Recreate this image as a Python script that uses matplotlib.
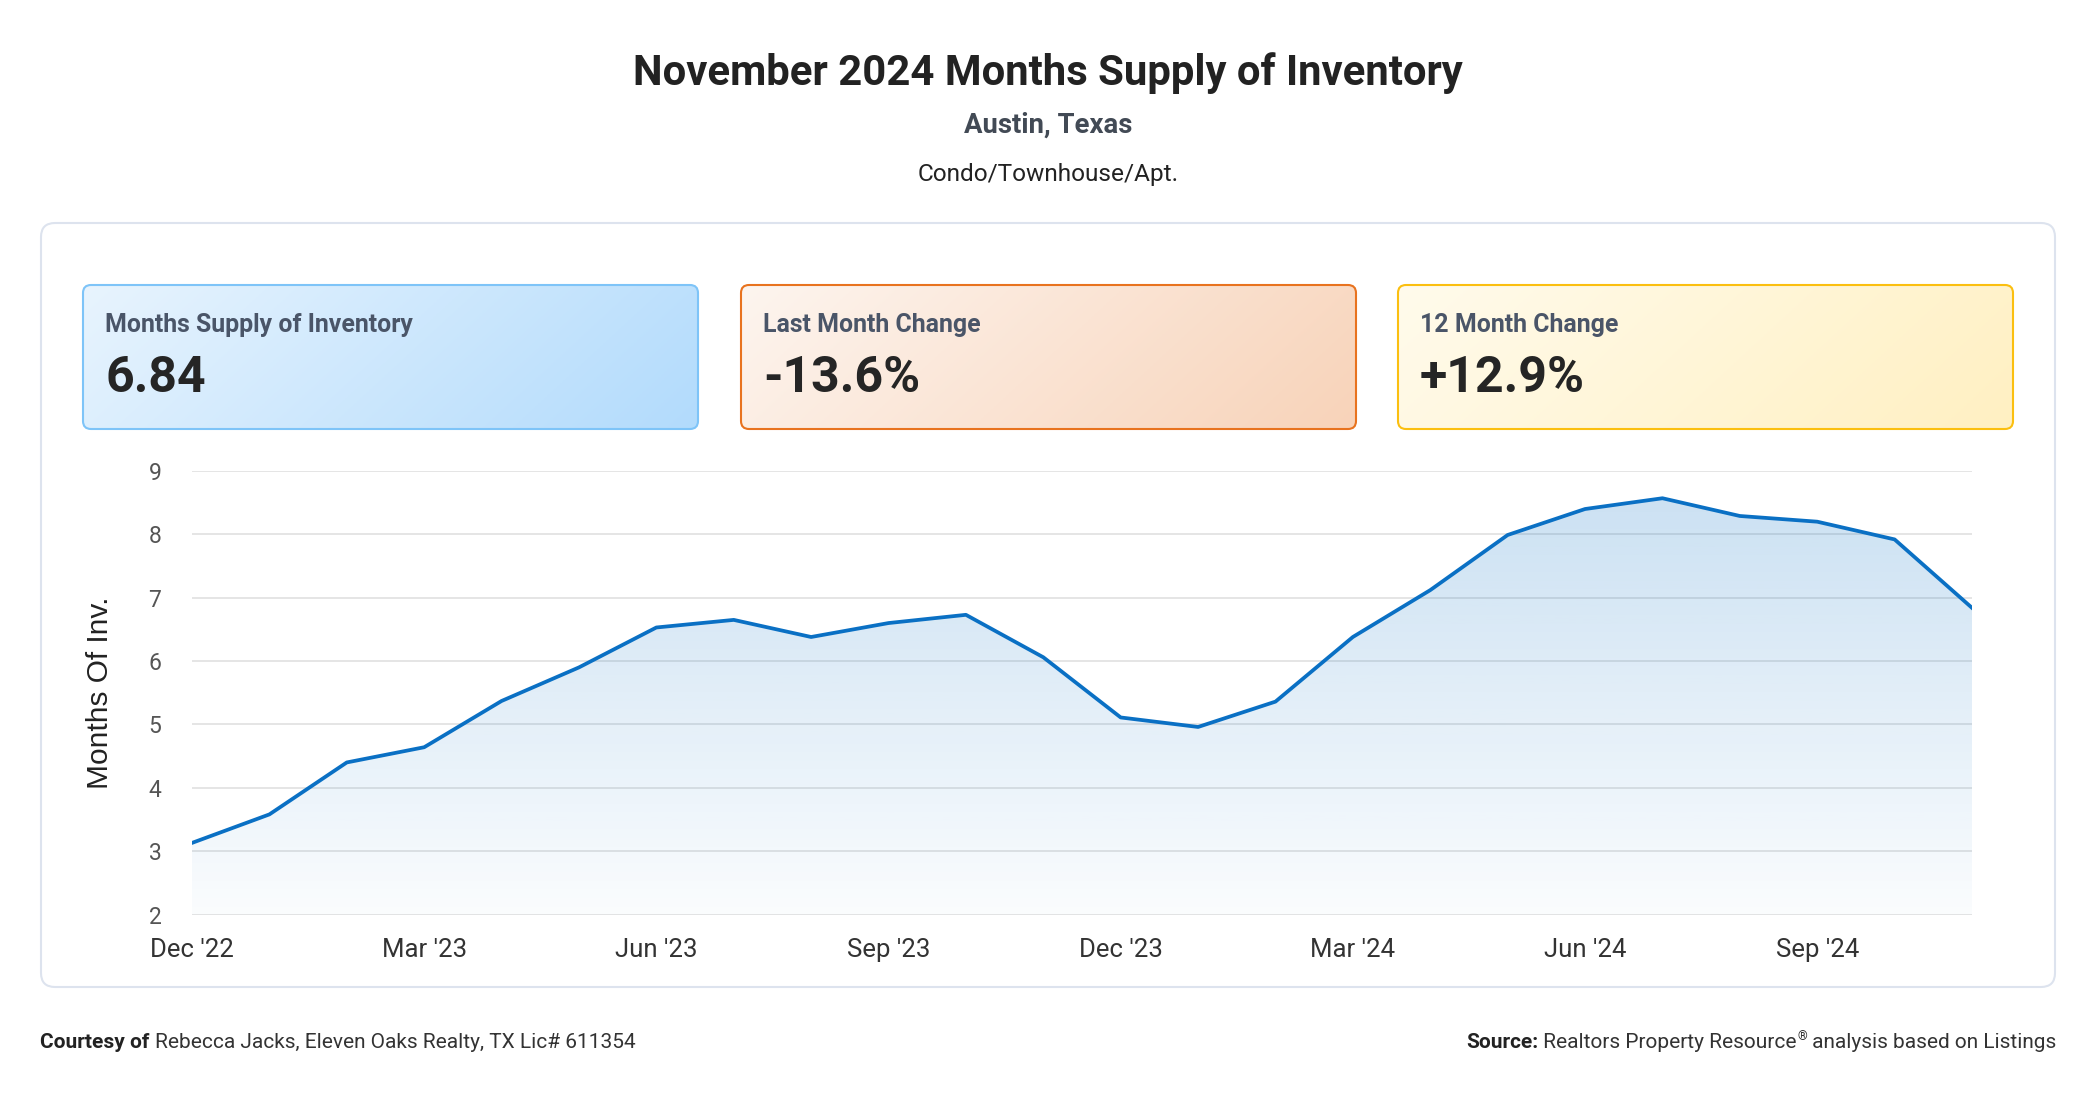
import matplotlib
matplotlib.use('Agg')
import matplotlib.pyplot as plt
import numpy as np
from matplotlib.patches import FancyBboxPatch, Polygon
from matplotlib.colors import LinearSegmentedColormap, to_rgb

plt.rcParams['font.family'] = ['Roboto', 'DejaVu Sans']

W, H = 2096, 1100

# monthly months-supply values, Dec 2022 .. Nov 2024
months = ['2022-12', '2023-01', '2023-02', '2023-03', '2023-04', '2023-05',
          '2023-06', '2023-07', '2023-08', '2023-09', '2023-10', '2023-11',
          '2023-12', '2024-01', '2024-02', '2024-03', '2024-04', '2024-05',
          '2024-06', '2024-07', '2024-08', '2024-09', '2024-10', '2024-11']
supply = [3.13, 3.58, 4.40, 4.64, 5.37, 5.90, 6.53, 6.65, 6.38, 6.60, 6.73, 6.06,
          5.11, 4.96, 5.36, 6.38, 7.12, 7.99, 8.40, 8.57, 8.29, 8.20, 7.92, 6.84]
tick_labels = ["Dec '22", "Mar '23", "Jun '23", "Sep '23",
               "Dec '23", "Mar '24", "Jun '24", "Sep '24"]
y_ticks = [2, 3, 4, 5, 6, 7, 8, 9]

card_titles = ['Months Supply of Inventory', 'Last Month Change', '12 Month Change']
card_values = ['6.84', '-13.6%', '+12.9%']

fig = plt.figure(figsize=(W / 100, H / 100), dpi=100)
fig.patch.set_facecolor('white')

bg = fig.add_axes([0, 0, 1, 1])
bg.set_xlim(0, W)
bg.set_ylim(H, 0)
bg.axis('off')


def rounded(x, y, w, h, r, **kw):
    p = FancyBboxPatch((x, y), w, h, boxstyle='round,pad=0,rounding_size=%d' % r, **kw)
    bg.add_patch(p)
    return p


# header
bg.text(W / 2, 85, 'November 2024 Months Supply of Inventory', ha='center', va='baseline',
        fontsize=30.2, fontweight='bold', color='#222222')
bg.text(W / 2, 133, 'Austin, Texas', ha='center', va='baseline',
        fontsize=19.8, fontweight='bold', color='#424a55')
bg.text(W / 2, 181, 'Condo/Townhouse/Apt.', ha='center', va='baseline',
        fontsize=17.6, color='#222222')

# outer panel
rounded(41, 223, 2014, 764, 14, facecolor='white', edgecolor='#dde3ee', lw=1.5)

# summary cards
card_x = [83, 741, 1398]
card_w = 615
card_y, card_h = 285, 144
card_light = ['#e8f4fe', '#fdf5ef', '#fffbec']
card_dark = ['#b2dbfc', '#f8d3b9', '#fff0c2']
card_edge = ['#7ec4f8', '#e8731f', '#fbbf10']

for i in range(3):
    x0 = card_x[i]
    u, v = np.meshgrid(np.linspace(0, 1, 200), np.linspace(0, 1, 50))
    t = (u * 0.8 + v * 0.2)
    c0, c1 = np.array(to_rgb(card_light[i])), np.array(to_rgb(card_dark[i]))
    img = c0 + (c1 - c0) * t[..., None]
    clip = rounded(x0, card_y, card_w, card_h, 8, facecolor='none', edgecolor='none')
    im = bg.imshow(img, extent=(x0, x0 + card_w, card_y + card_h, card_y),
                   origin='upper', aspect='auto', zorder=1)
    im.set_clip_path(clip)
    rounded(x0, card_y, card_w, card_h, 8, facecolor='none', edgecolor=card_edge[i],
            lw=1.5, zorder=2)
    bg.text(x0 + 22, 332, card_titles[i], ha='left', va='baseline', fontsize=17.9,
            fontweight='bold', color='#4a5568', zorder=3)
    bg.text(x0 + 22, 392, card_values[i], ha='left', va='baseline', fontsize=36,
            fontweight='bold', color='#252525', zorder=3)

bg.set_xlim(0, W)
bg.set_ylim(H, 0)

# main chart
left, right, top, bottom = 192, 1972, 471, 914.5
ax = fig.add_axes([left / W, 1 - bottom / H, (right - left) / W, (bottom - top) / H])
x = np.arange(len(supply))
ymax = max(supply)

cmap = LinearSegmentedColormap.from_list(
    'fade', [(10 / 255, 112 / 255, 196 / 255, 0.02), (10 / 255, 112 / 255, 196 / 255, 0.21)])
grad = np.linspace(0, 1, 256).reshape(-1, 1)
im = ax.imshow(grad, extent=(0, len(supply) - 1, 2, ymax), origin='lower',
               aspect='auto', cmap=cmap, zorder=1.6)
verts = np.column_stack([np.r_[x, x[::-1]], np.r_[supply, np.full(len(supply), 2)]])
poly = Polygon(verts, closed=True, facecolor='none', edgecolor='none')
ax.add_patch(poly)
im.set_clip_path(poly)

ax.plot(x, supply, color='#0a70c4', lw=2.7, solid_joinstyle='round', zorder=3)

ax.set_xlim(0, len(supply) - 1)
ax.set_ylim(2, 9)
ax.set_yticks(y_ticks)
ax.set_xticks(x[::3])
ax.set_xticklabels(tick_labels)
ax.grid(axis='y', color='#e3e3e3', lw=1.3)
ax.grid(axis='x', visible=False)
for s in ax.spines.values():
    s.set_visible(False)
ax.tick_params(axis='y', length=0, pad=22, labelsize=16.5, labelcolor='#555555')
ax.tick_params(axis='x', length=0, pad=17, labelsize=18.5, labelcolor='#333333')
ax.set_facecolor('none')

bg.text(100, (top + bottom) / 2, 'Months Of Inv.', rotation=90, ha='center', va='center',
        fontsize=21.5, color='#222222', family=['Liberation Sans', 'DejaVu Sans'])

# footer with mixed weight
fig.canvas.draw()
r = fig.canvas.get_renderer()
t1 = bg.text(40, 1048, 'Courtesy of ', ha='left', va='baseline', fontsize=15,
             fontweight='bold', color='#222222')
ext = t1.get_window_extent(r)
bg.text(ext.x1, 1048, 'Rebecca Jacks, Eleven Oaks Realty, TX Lic# 611354', ha='left',
        va='baseline', fontsize=15, color='#333333')
t2 = bg.text(2056, 1048, ' analysis based on Listings', ha='right', va='baseline',
             fontsize=15, color='#333333')
ext2 = t2.get_window_extent(r)
t3 = bg.text(ext2.x0, 1040, '\u00ae', ha='right', va='baseline', fontsize=9,
             color='#333333')
ext3 = t3.get_window_extent(r)
t4 = bg.text(ext3.x0, 1048, ' Realtors Property Resource', ha='right', va='baseline',
             fontsize=15, color='#333333')
ext4 = t4.get_window_extent(r)
bg.text(ext4.x0, 1048, 'Source:', ha='right', va='baseline', fontsize=15,
        fontweight='bold', color='#222222')

fig.savefig('out.png', dpi=100, facecolor='white')
